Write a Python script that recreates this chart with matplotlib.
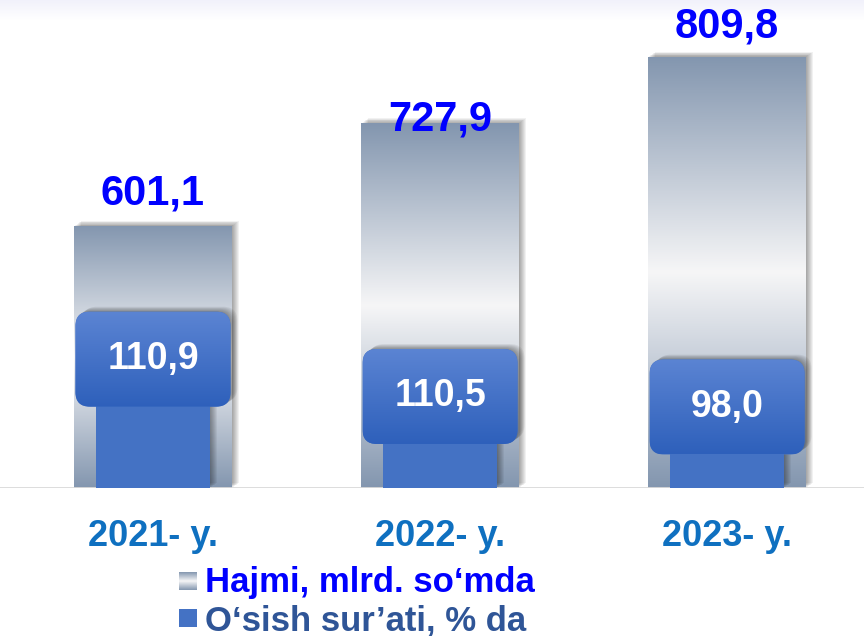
import numpy as np
import matplotlib.pyplot as plt
import matplotlib.transforms as mtransforms
from matplotlib.colors import LinearSegmentedColormap
from matplotlib.patches import FancyBboxPatch, Rectangle

plt.rcParams['font.family'] = ['Liberation Sans', 'DejaVu Sans']
plt.rcParams['font.weight'] = 'bold'

# data
years = ['2021- y.', '2022- y.', '2023- y.']
volume = [601.1, 727.9, 809.8]          # Hajmi, mlrd. so'mda
growth = [110.9, 110.5, 98.0]           # O'sish sur'ati, % da
volume_labels = ['601,1', '727,9', '809,8']
growth_labels = ['110,9', '110,5', '98,0']
legend_labels = ['Hajmi, mlrd. so‘mda', 'O‘sish sur’ati, % da']

# label placement tweaks (pixels), as laid out on the slide
vol_dy = [21, -7, 19]
box_dy = [18, -19, -17]

gray_cmap = LinearSegmentedColormap.from_list('g', ['#8396AF', '#F6F6F7', '#8396AF'])
blue_cmap = LinearSegmentedColormap.from_list('b', ['#5B84D3', '#2E60BB'])
grad = np.linspace(0, 1, 256).reshape(-1, 1)

fig = plt.figure(figsize=(8.64, 6.36), dpi=100)

# faint band at top of slide
band = fig.add_axes([0, 1 - 20 / 636, 1, 20 / 636])
band.imshow(grad, cmap=LinearSegmentedColormap.from_list('t', ['#F1F1FB', '#FFFFFF']), aspect='auto')
band.axis('off')

ax = fig.add_axes([0, 148 / 636, 1, 488 / 636])
ax.set_xlim(-0.533, 2.477)
ax.set_ylim(277.6, 880)
ax.axis('off')

x = np.arange(len(years))


def soft_shadow(axis, patch_cls, *args, **kw):
    # stack of faint copies shifted up and right -> blurred drop shadow
    for k in range(1, 8):
        tr = mtransforms.offset_copy(axis.transData, fig=fig, x=k, y=k * 0.7, units='dots')
        p = patch_cls(*args, transform=tr, facecolor='#000000', edgecolor='none',
                      alpha=0.055, zorder=1, **kw)
        axis.add_patch(p)


bars = ax.bar(x, np.array(volume) - 277.6, bottom=277.6, width=0.55,
              facecolor='none', edgecolor='none', zorder=3)
for b in bars:
    x0, y0, w, h = b.get_x(), b.get_y(), b.get_width(), b.get_height()
    soft_shadow(ax, Rectangle, (x0, y0), w, h)
    bg = Rectangle((x0, y0), w, h, facecolor='white', edgecolor='none', zorder=2)
    ax.add_patch(bg)
    im = ax.imshow(grad, cmap=gray_cmap, extent=[x0, x0 + w, y0, y0 + h],
                   aspect='auto', zorder=3)
    im.set_clip_path(b)
ax.set_xlim(-0.533, 2.477)
ax.set_ylim(277.6, 880)

ax.axhline(277.6, color='#D9D9D9', lw=2, zorder=5)

for i, v in enumerate(volume):
    ax.annotate(volume_labels[i], xy=(x[i], v), xytext=(0, vol_dy[i]),
                textcoords='offset pixels', ha='center', va='baseline',
                fontsize=30, color='#0000FF', zorder=10)
    ax.annotate(years[i], xy=(x[i], 0), xycoords=('data', 'axes fraction'),
                xytext=(0, -58), textcoords='offset pixels', ha='center',
                va='baseline', fontsize=26, color='#0F70C0', annotation_clip=False)

# growth rate on a second scale
ax2 = ax.twinx()
ax2.set_ylim(0, 488)
ax2.set_xlim(-0.533, 2.477)
ax2.axis('off')

gb = ax2.bar(x, growth, width=0.40, color='#4472C4', zorder=3)
for b in gb:
    soft_shadow(ax2, Rectangle, (b.get_x(), b.get_y()), b.get_width(), b.get_height())

bw, bh = 0.54, 95
for i, g in enumerate(growth):
    yc = g + box_dy[i]
    style = 'round,pad=0,rounding_size=0.05'
    soft_shadow(ax2, FancyBboxPatch, (x[i] - bw / 2, yc - bh / 2), bw, bh,
                boxstyle=style, mutation_aspect=287)
    box = FancyBboxPatch((x[i] - bw / 2, yc - bh / 2), bw, bh, boxstyle=style,
                         mutation_aspect=287, facecolor='#4472C4', edgecolor='none', zorder=6)
    ax2.add_patch(box)
    im = ax2.imshow(grad, cmap=blue_cmap, extent=[x[i] - bw / 2, x[i] + bw / 2, yc - bh / 2, yc + bh / 2],
                    aspect='auto', zorder=7)
    im.set_clip_path(box)
    ax2.text(x[i], yc, growth_labels[i], ha='center', va='center',
             fontsize=27, color='white', zorder=9)
ax2.set_ylim(0, 488)
ax2.set_xlim(-0.533, 2.477)

# legend
m1 = fig.add_axes([179 / 864, 1 - 590 / 636, 18 / 864, 18 / 636])
m1.imshow(grad, cmap=gray_cmap, aspect='auto')
m1.axis('off')
m2 = fig.add_axes([179 / 864, 1 - 627 / 636, 18 / 864, 18 / 636])
m2.set_facecolor('#4472C4')
m2.set_xticks([])
m2.set_yticks([])
for s in m2.spines.values():
    s.set_visible(False)
fig.text(205 / 864, 1 - 592 / 636, legend_labels[0], fontsize=25,
         color='#0000FF', va='baseline')
fig.text(205 / 864, 1 - 630 / 636, legend_labels[1], fontsize=25,
         color='#2F5597', va='baseline')

fig.savefig('out.png', dpi=100)
